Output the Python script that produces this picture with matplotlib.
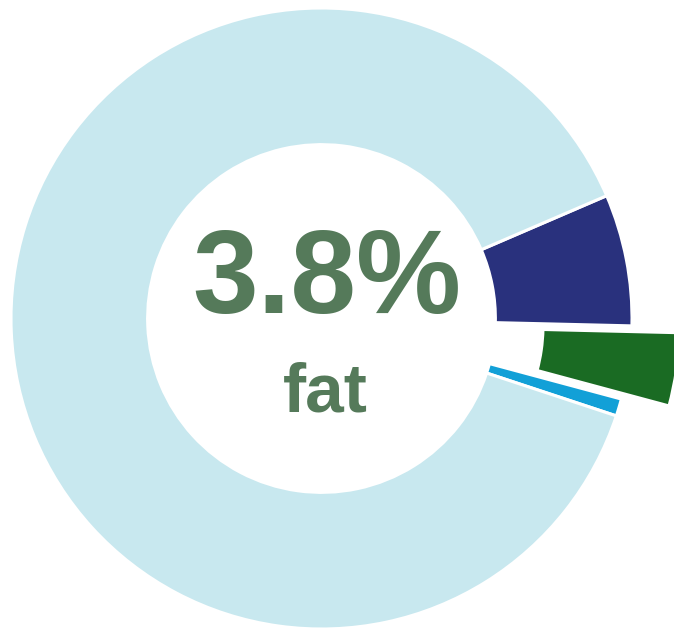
import matplotlib
matplotlib.use("Agg")
import matplotlib.pyplot as plt

# fat breakdown, clockwise from the navy wedge
labels = ["saturated", "fat", "other", "rest"]
shares = [6.85, 3.8, 0.9, 88.45]
colors = ["#29317D", "#1A6B23", "#12A0D7", "#C8E8EF"]
explode = [0, 0.155, 0, 0]

headline = "3.8%"
caption = "fat"
text_color = "#557A5A"

fig = plt.figure(figsize=(6.74, 6.31), dpi=100)
ax = fig.add_axes([0, 0, 1, 1])

ax.pie(shares, colors=colors, explode=explode, startangle=23.3,
       counterclock=False, radius=1.0,
       wedgeprops=dict(width=0.44, edgecolor="white", linewidth=2.2))

ax.text(0.016, 0.018, headline, ha="center", va="baseline",
        fontsize=85, fontweight="bold", family="Liberation Sans",
        color=text_color)
ax.text(0.013, -0.300, caption, ha="center", va="baseline",
        fontsize=50, fontweight="bold", family="Liberation Sans",
        color=text_color)

ax.set_xlim(-321.5 / 310.5, (674 - 321.5) / 310.5)
ax.set_ylim(-(631 - 318.5) / 310.5, 318.5 / 310.5)
ax.set_aspect("auto")
ax.axis("off")

fig.savefig("out.png", dpi=100, facecolor="white")
